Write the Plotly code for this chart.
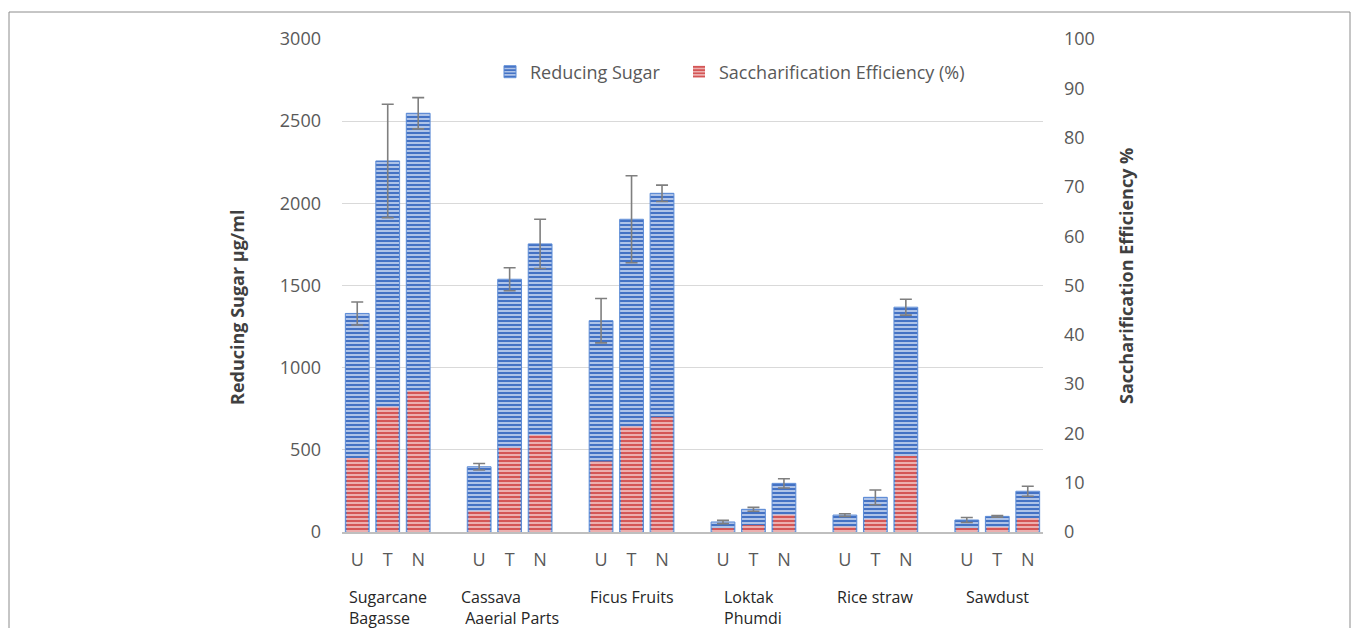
import plotly.graph_objects as go

groups = ["Sugarcane<br>Bagasse", "Cassava<br> Aaerial Parts", "Ficus Fruits",
          "Loktak<br>Phumdi", "Rice straw", "Sawdust"]
treatments = ["U", "T", "N"]
series_names = ["Reducing Sugar", "Saccharification Efficiency (%)"]

# Reducing sugar (µg/ml), per group: U, T, N
reducing_sugar = [1330, 2258, 2548,
                  397, 1538, 1753,
                  1286, 1903, 2061,
                  61, 138, 296,
                  103, 211, 1368,
                  73, 95, 248]
reducing_sugar_err = [70, 345, 95,
                      20, 70, 150,
                      135, 265, 50,
                      10, 12, 28,
                      8, 45, 48,
                      15, 5, 30]
# Saccharification efficiency (%)
sacch_eff = [15.0, 25.4, 28.6,
             4.2, 17.1, 19.7,
             14.3, 21.4, 23.3,
             0.8, 1.4, 3.5,
             1.1, 2.6, 15.4,
             0.8, 1.0, 2.8]

# numeric slots: 3 bars per group + one empty slot between groups
xpos = [4 * g + t for g in range(len(groups)) for t in range(len(treatments))]
xtext = [treatments[t] for g in range(len(groups)) for t in range(len(treatments))]

OFF = 8  # default page body margin
FW, FH = 1360 - OFF, 628 - OFF
L, R, T, B = 342, 1043, 39, 532  # plot area in page pixels
W, H = R - L, B - T


def px(xp):
    return (xp - L) / W


def py(yp):
    return (B - yp) / H


NBSP = "\u00a0"

fig = go.Figure()
fig.add_trace(go.Bar(
    x=xpos, y=reducing_sugar, name=series_names[0] + NBSP * 3, width=0.78,
    marker=dict(color="#5B8BD6", line=dict(color="#5B8BD6", width=1),
                pattern=dict(shape="-", fgcolor="#4472C4", bgcolor="#C9D8F2",
                             size=4, solidity=0.6, fillmode="replace")),
    error_y=dict(type="data", array=reducing_sugar_err, color="#7F7F7F",
                 thickness=1.6, width=6),
))
fig.add_trace(go.Bar(
    x=xpos, y=sacch_eff, name=series_names[1], width=0.7,
    yaxis="y2",
    marker=dict(color="#D65B5B", line=dict(width=0),
                pattern=dict(shape="-", fgcolor="#D45656", bgcolor="#F3C6C6",
                             size=4, solidity=0.6, fillmode="replace")),
))

tickfont = dict(family="Open Sans", size=18, color="#595959")

fig.update_layout(
    width=FW, height=FH,
    margin=dict(l=L - OFF, r=FW - (R - OFF), t=T - OFF, b=FH - (B - OFF), autoexpand=False),
    paper_bgcolor="white", plot_bgcolor="white",
    barmode="overlay",
    showlegend=True,
    legend=dict(orientation="h", x=px(490), y=py(72), xanchor="left", yanchor="middle",
                font=dict(family="Open Sans", size=18, color="#595959"),
                bgcolor="rgba(0,0,0,0)", itemwidth=30, traceorder="normal"),
    xaxis=dict(range=[-0.5, 22.5], tickvals=xpos, ticktext=xtext, showgrid=False,
               zeroline=False, showline=True, linecolor="#BFBFBF", linewidth=2,
               ticks="", tickfont=tickfont, ticklabelstandoff=10),
    yaxis=dict(range=[0, 3000], dtick=500, showgrid=True, gridcolor="#D9D9D9",
               gridwidth=1, zeroline=False, showline=False, ticks="",
               tickfont=tickfont, ticklabelstandoff=20),
    yaxis2=dict(range=[0, 100], dtick=10, overlaying="y", side="right",
                showgrid=False, zeroline=False, showline=False, ticks="",
                tickfont=tickfont, ticklabelstandoff=20),
)

annotations = []
for g, name in enumerate(groups):
    annotations.append(dict(
        x=4 * g + 1, xref="x", y=py(584), yref="paper", text=name,
        showarrow=False, xanchor="center", yanchor="top", align="left",
        font=dict(family="Open Sans", size=16, color="#262626")))
annotations.append(dict(
    x=px(237), y=py(308), xref="paper", yref="paper", text="<b>Reducing Sugar µg/ml</b>",
    textangle=-90, showarrow=False, xanchor="center", yanchor="middle",
    font=dict(family="Open Sans", size=18, color="#404040")))
annotations.append(dict(
    x=px(1126), y=py(276), xref="paper", yref="paper",
    text="<b>Saccharification Efficiency %</b>",
    textangle=-90, showarrow=False, xanchor="center", yanchor="middle",
    font=dict(family="Open Sans", size=18, color="#404040")))
fig.update_layout(annotations=annotations)

fig.add_shape(type="rect", xref="paper", yref="paper",
              x0=px(9), x1=px(1350), y0=py(660), y1=py(12),
              line=dict(color="#8C8C8C", width=1), fillcolor="rgba(0,0,0,0)", layer="below")

fig.write_html("out.html")
